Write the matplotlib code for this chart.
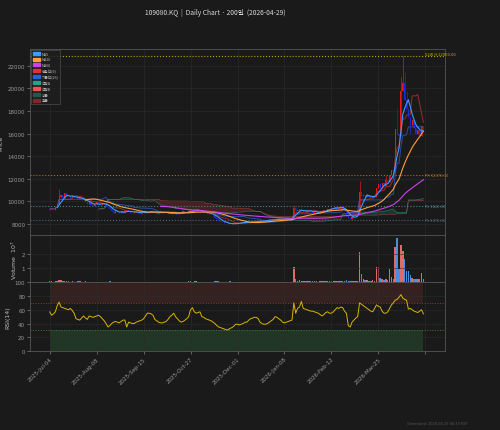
import numpy as np
import pandas as pd
import matplotlib
matplotlib.use('Agg')
import matplotlib.pyplot as plt
from matplotlib.patches import Patch

plt.rcParams['font.family'] = ['DejaVu Sans', 'Noto Sans CJK KR']

# daily closes, 200 bars
closes = [
    9300, 9400, 9250, 9500, 9800, 10400, 10600, 10300, 10700, 10500,
    10450, 10300, 10500, 10350, 10400, 10200, 10300, 10100, 10250, 9900,
    9800, 9950, 9700, 9600, 9750, 9900, 9800, 9700, 9850, 9750,
    9600, 9500, 9300, 9100, 9000, 9200, 9050, 8950, 9100, 9000,
    9150, 9250, 9100, 9000, 8950, 9050, 9150, 9000, 8900, 9050,
    9100, 9000, 8950, 9050, 9150, 9050, 9000, 8900, 9000, 9100,
    9050, 8950, 9000, 8900, 8850, 8950, 9000, 8900, 8850, 8950,
    9000, 9100, 9050, 8950, 9150, 9250, 9100, 9300, 9350, 9150,
    9050, 9100, 8950, 9000, 8900, 8950, 8850, 8700, 8550, 8400,
    8300, 8200, 8150, 8050, 8100, 8000, 7950, 8050, 8000, 8100,
    8050, 8100, 8150, 8100, 8200, 8150, 8100, 8200, 8250, 8200,
    8250, 8200, 8300, 8250, 8300, 8350, 8300, 8400, 8350, 8400,
    8400, 8450, 8350, 8400, 8450, 8500, 8400, 8450, 8450, 8500,
    9400, 9100, 9200, 9300, 9100, 9200, 9050, 9150, 9250, 9100,
    9000, 9100, 9050, 8950, 9100, 9150, 9250, 9200, 9300, 9350,
    9400, 9450, 9500, 9350, 9450, 9550, 9400, 9200, 8700, 8500,
    8450, 8600, 8700, 8800, 8900, 10800, 10500, 10600, 10400, 10550,
    10400, 10300, 10500, 10350, 11200, 11500, 11200, 11600, 11400, 11900,
    11700, 12300, 12800, 12600, 16400, 16000, 15800, 19800, 20500, 19000,
    18200, 17500, 16800, 17200, 16500, 16000, 16300, 15800, 16700, 16400,
]

# volume in millions of shares
volumes_m = [
    0.6, 0.5, 0.4, 0.8, 1.0, 1.5, 1.3, 0.7, 0.9, 0.6,
    0.5, 0.4, 0.5, 0.4, 0.4, 0.5, 0.8, 0.4, 0.3, 0.5,
    0.4, 0.3, 0.4, 0.3, 0.3, 0.4, 0.3, 0.3, 0.3, 0.3,
    0.4, 0.3, 0.5, 0.4, 0.3, 0.3, 0.3, 0.3, 0.2, 0.3,
    0.3, 0.3, 0.2, 0.3, 0.3, 0.2, 0.3, 0.3, 0.3, 0.2,
    0.3, 0.3, 0.2, 0.3, 0.3, 0.3, 0.2, 0.3, 0.2, 0.3,
    0.3, 0.2, 0.3, 0.3, 0.2, 0.3, 0.3, 0.2, 0.3, 0.3,
    0.3, 0.4, 0.3, 0.3, 0.5, 0.6, 0.4, 0.8, 0.6, 0.4,
    0.3, 0.3, 0.3, 0.3, 0.3, 0.4, 0.3, 0.4, 0.5, 0.6,
    0.5, 0.4, 0.3, 0.4, 0.3, 0.3, 0.5, 0.4, 0.3, 0.3,
    0.3, 0.3, 0.3, 0.2, 0.3, 0.3, 0.2, 0.3, 0.3, 0.2,
    0.3, 0.2, 0.3, 0.2, 0.3, 0.3, 0.2, 0.3, 0.3, 0.3,
    0.3, 0.3, 0.2, 0.3, 0.3, 0.3, 0.2, 0.3, 0.3, 0.4,
    11.0, 2.5, 1.0, 1.5, 0.8, 1.0, 0.6, 0.6, 0.7, 0.5,
    0.5, 0.6, 0.5, 0.4, 0.5, 0.5, 0.6, 0.5, 0.6, 0.7,
    0.8, 0.7, 0.9, 0.6, 0.7, 0.9, 0.6, 0.8, 1.2, 1.0,
    0.8, 0.7, 0.6, 0.7, 0.8, 21.0, 6.0, 2.5, 1.5, 1.2,
    1.0, 0.9, 1.2, 1.0, 10.5, 11.0, 3.0, 2.0, 1.5, 2.5,
    1.5, 9.0, 3.5, 2.0, 25.0, 31.0, 9.0, 26.0, 22.0, 16.0,
    7.5, 7.5, 5.0, 3.0, 2.5, 2.5, 2.0, 2.5, 6.6, 2.5,
]

# RSI(14)
rsi_vals = [
    57, 52, 54, 57, 66, 71, 64, 63, 62, 61,
    60, 62, 59, 55, 47, 46, 45, 48, 51, 48,
    46, 51, 50, 49, 50, 51, 52, 50, 47, 44,
    40, 35, 37, 40, 42, 43, 42, 41, 43, 45,
    45, 35, 42, 41, 40, 40, 42, 43, 44, 45,
    47, 51, 55, 55, 54, 52, 46, 44, 42, 41,
    41, 42, 43, 46, 50, 52, 55, 50, 47, 44,
    42, 43, 45, 47, 50, 60, 63, 57, 55, 56,
    57, 50, 49, 47, 46, 45, 44, 42, 40, 37,
    35, 34, 33, 32, 31, 31, 33, 34, 36, 39,
    39, 38, 39, 40, 42, 42, 45, 47, 48, 49,
    49, 47, 42, 40, 39, 39, 40, 42, 44, 46,
    50, 49, 47, 45, 42, 41, 42, 43, 44, 45,
    70, 55, 62, 64, 72, 62, 61, 60, 59, 58,
    58, 57, 56, 55, 53, 51, 53, 56, 57, 55,
    55, 57, 60, 63, 62, 64, 63, 58, 55, 37,
    35, 42, 45, 48, 50, 70, 68, 66, 64, 62,
    60, 58, 57, 62, 67, 65, 64, 58, 55, 55,
    57, 62, 67, 70, 74, 75, 78, 82, 77, 75,
    74, 61, 62, 60, 58, 57, 56, 58, 60, 54,
]

# long wicks that stick out past the bodies
wick_highs = {5: 11100, 130: 9600, 165: 11800, 179: 12300, 185: 18300,
              187: 21000, 188: 22900, 189: 21500, 190: 19800}
wick_lows = {184: 12500, 192: 16000}

tick_labels = ['2025-Jul-04', '2025-Aug-08', '2025-Sep-15', '2025-Oct-27',
               '2025-Dec-01', '2026-Jan-08', '2026-Feb-12', '2026-Mar-25']

levels = [(12370, 'PH 12370.00', '#a8702a'),
          (9620, 'PL 9620.00', '#4f8090'),
          (8370, 'PL 8370.00', '#4a6878')]

# --- derived series ---
close = pd.Series(closes, dtype=float)
opn = close.shift(1).fillna(close.iloc[0])
high = np.maximum(opn, close)
low = np.minimum(opn, close)
for k, v in wick_highs.items():
    high[k] = v
for k, v in wick_lows.items():
    low[k] = v
vol = np.array(volumes_m) * 1e6
x = np.arange(len(close))
up = close >= opn

ma5 = close.rolling(5).mean()
ma20 = close.rolling(20).mean()
ma60 = close.rolling(60).mean()

tenkan = (high.rolling(9, min_periods=1).max() + low.rolling(9, min_periods=1).min()) / 2
kijun = (high.rolling(26, min_periods=1).max() + low.rolling(26, min_periods=1).min()) / 2
span_a = ((tenkan + kijun) / 2).shift(26)
span_b = ((high.rolling(52, min_periods=1).max() + low.rolling(52, min_periods=1).min()) / 2).shift(26)

# --- figure ---
bg = '#1a1a1a'
txt = '#bdbdbd'
kr = ['Noto Sans CJK KR', 'DejaVu Sans']
fig = plt.figure(figsize=(5, 4.31), dpi=100, facecolor=bg)
ax = fig.add_axes([0.06, 0.452, 0.83, 0.432])
axv = fig.add_axes([0.06, 0.343, 0.83, 0.109], sharex=ax)
axr = fig.add_axes([0.06, 0.183, 0.83, 0.160], sharex=ax)

for a in (ax, axv, axr):
    a.set_facecolor(bg)
    for s in a.spines.values():
        s.set_color('#555555')
        s.set_linewidth(0.6)
    a.tick_params(colors='#9a9a9a', labelsize=4, width=0.4, length=2, pad=1.5)
    a.grid(True, color='#2c2c2c', linewidth=0.4)

# candles
ccol = np.where(up, '#e81818', '#1a2ae0')
ax.vlines(x, low, high, colors=ccol, linewidth=0.5, zorder=3)
body_h = np.maximum(np.abs(close - opn), 20)
ax.bar(x, body_h, bottom=np.minimum(opn, close), width=0.6, color=ccol, zorder=3)

# moving averages and ichimoku
ax.plot(x, ma5, color='#3f9cff', lw=0.8, zorder=4)
ax.plot(x, ma20, color='#ff9f35', lw=0.8, zorder=4)
ax.plot(x, ma60, color='#c844e8', lw=0.8, zorder=4)
ax.plot(x, tenkan, color='#c83030', lw=0.7, alpha=0.75, zorder=2)
ax.plot(x, kijun, color='#2a60d0', lw=0.7, alpha=0.75, zorder=2)
ax.plot(x, span_a, color='#27a08e', lw=0.5, alpha=0.6, zorder=1)
ax.plot(x, span_b, color='#e06060', lw=0.5, alpha=0.45, zorder=1)
ax.fill_between(x, span_a, span_b, where=span_a >= span_b, color='#1f5a4c', alpha=0.45, lw=0, zorder=0)
ax.fill_between(x, span_a, span_b, where=span_a < span_b, color='#7a2a2a', alpha=0.45, lw=0, zorder=0)

# horizontal levels
hi52 = high.max()
ax.axhline(hi52, color='#b8a200', ls=':', lw=0.8)
ax.text(len(x), hi52, f'52W H {hi52:.2f}', color='#c8b200', fontsize=2.6, va='bottom', ha='left')
for val, lab, col in levels:
    ax.axhline(val, color=col, ls=':', lw=0.8)
    ax.text(len(x), val, lab, color=col, fontsize=2.6, va='center', ha='left')

ax.set_ylim(7000, 23500)
ax.set_yticks(np.arange(8000, 22001, 2000))
ax.set_ylabel('Price', color=txt, fontsize=4.5, labelpad=3)
ax.set_xlim(-10.5, 210.5)

handles = [Patch(color='#3f9cff', label='MA5'), Patch(color='#ff9f35', label='MA20'),
           Patch(color='#c844e8', label='MA60'), Patch(color='#e03030', label='전환선(9)'),
           Patch(color='#2a60d0', label='기준선(26)'), Patch(color='#27a08e', label='선행A'),
           Patch(color='#f05050', label='선행B'), Patch(color='#1f5a4c', label='양운'),
           Patch(color='#7a2a2a', label='음운')]
leg = ax.legend(handles=handles, loc='upper left', frameon=True,
                prop={'family': kr, 'size': 2.6},
                facecolor='#1e1e1e', edgecolor='#666666', labelcolor=txt,
                handlelength=2.0, handleheight=0.9, labelspacing=0.5, borderpad=0.5,
                handletextpad=0.6, borderaxespad=0.2)
leg.get_frame().set_linewidth(0.4)

# volume
vcol = np.where(up, '#e06a6a', '#4a8ee0')
axv.bar(x, vol, width=0.8, color=vcol)
axv.set_ylim(0, 3.3e7)
axv.set_yticks([1e7, 2e7])
axv.set_yticklabels(['1', '2'])
axv.set_ylabel('Volume  10$^7$', color=txt, fontsize=4.5, labelpad=2)

# RSI
axr.fill_between(x, 70, 100, color='#5a2a2a', alpha=0.45, lw=0)
axr.fill_between(x, 0, 30, color='#2a5a32', alpha=0.45, lw=0)
axr.axhline(70, color='#8a3a3a', ls=':', lw=0.7)
axr.axhline(30, color='#3a7a45', ls=':', lw=0.7)
axr.plot(x, rsi_vals, color='#d8b400', lw=0.7)
axr.set_ylim(0, 100)
axr.set_yticks(np.arange(0, 101, 20))
axr.set_ylabel('RSI(14)', color=txt, fontsize=4.5, labelpad=3)

axr.set_xticks(np.arange(0, 201, 25))
axr.set_xticklabels(tick_labels + [''], rotation=45, ha='right', rotation_mode='anchor')
plt.setp(ax.get_xticklabels(), visible=False)
plt.setp(axv.get_xticklabels(), visible=False)

fig.text(0.43, 0.979, '109080.KQ  |  Daily Chart · 200일  (2026-04-29)',
         color='#d8d8d8', fontsize=4.8, ha='center', va='top', family=kr)
fig.text(0.935, 0.012, 'Generated: 2026-04-29 06:33 KST', color='#555555', fontsize=2.5,
         ha='right', va='bottom')

fig.savefig('out.png', dpi=100, facecolor=bg)
